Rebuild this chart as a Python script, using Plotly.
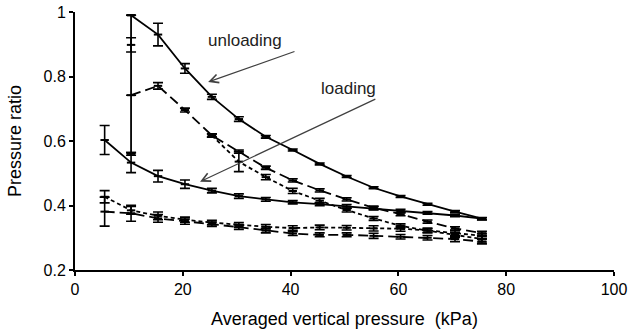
import plotly.graph_objects as go

# ---- data ----
x_load = [5.5, 10.4, 15.4, 20.4, 25.4, 30.4, 35.4, 40.4, 45.4, 50.4, 55.4, 60.4, 65.4, 70.5, 75.5]
solid_load = [0.603, 0.533, 0.491, 0.466, 0.446, 0.429, 0.419, 0.410, 0.404, 0.397, 0.391, 0.383, 0.377, 0.369, 0.359]
solid_load_err = [0.045, 0.031, 0.018, 0.013, 0.007, 0.007, 0.006, 0.005, 0.005, 0.006, 0.005, 0.005, 0.004, 0.004, 0.004]
dot_load = [0.427, 0.385, 0.368, 0.356, 0.347, 0.340, 0.334, 0.330, 0.332, 0.331, 0.329, 0.328, 0.323, 0.314, 0.306]
dot_load_err = [0.019, 0.012, 0.012, 0.008, 0.007, 0.007, 0.007, 0.007, 0.007, 0.007, 0.008, 0.008, 0.007, 0.008, 0.008]
dash_load = [0.381, 0.376, 0.360, 0.350, 0.342, 0.333, 0.322, 0.313, 0.309, 0.309, 0.306, 0.303, 0.300, 0.296, 0.288]
dash_load_err = [0.045, 0.025, 0.012, 0.008, 0.007, 0.007, 0.007, 0.006, 0.006, 0.006, 0.008, 0.007, 0.007, 0.008, 0.007]

x_unload = [10.4, 15.4, 20.4, 25.4, 30.4, 35.4, 40.4, 45.4, 50.4, 55.4, 60.4, 65.4, 70.5, 75.5]
solid_unload = [0.99, 0.93, 0.825, 0.737, 0.668, 0.613, 0.572, 0.529, 0.490, 0.455, 0.428, 0.404, 0.381, 0.359]
solid_unload_err = [0.0, 0.035, 0.015, 0.008, 0.007, 0.004, 0.003, 0.003, 0.003, 0.003, 0.003, 0.003, 0.003, 0.003]
dash_unload = [0.742, 0.771, 0.696, 0.617, 0.567, 0.517, 0.478, 0.447, 0.419, 0.393, 0.373, 0.350, 0.329, 0.314]
dash_unload_err = [0.0, 0.010, 0.006, 0.005, 0.005, 0.005, 0.005, 0.005, 0.005, 0.005, 0.005, 0.005, 0.005, 0.006]
dot_unload = [0.898, None, None, 0.617, 0.536, 0.488, 0.445, 0.415, 0.386, 0.360, 0.337, 0.322, 0.309, 0.296]
dot_unload_err = [0.022, 0.0, 0.0, 0.005, 0.031, 0.008, 0.008, 0.007, 0.006, 0.006, 0.006, 0.006, 0.008, 0.009]

x_drop = [10.4, 10.4]
y_drop = [0.99, 0.56]
y_drop_err = [0.0, 0.004]

x_ticks = [0, 20, 40, 60, 80, 100]
y_ticks = [0.2, 0.4, 0.6, 0.8, 1.0]
y_tick_text = ["0.2", "0.4", "0.6", "0.8", "1"]

FONT = "Liberation Sans, Arial, sans-serif"
LONG = "10px,5px"
SHORT = "4px,3px"

fig = go.Figure()


def add(x, y, err, dash):
    fig.add_trace(go.Scatter(
        x=x, y=y, mode="lines+markers",
        line=dict(color="black", width=1.8, dash=dash),
        marker=dict(symbol="line-ew", size=6, color="black",
                    line=dict(color="black", width=2)),
        error_y=dict(type="data", array=err, visible=True,
                     color="black", thickness=1.6, width=5),
        connectgaps=False, showlegend=False, hoverinfo="skip"))


add(x_load, solid_load, solid_load_err, "solid")
add(x_load, dot_load, dot_load_err, SHORT)
add(x_load, dash_load, dash_load_err, LONG)
add(x_unload, solid_unload, solid_unload_err, "solid")
add(x_unload, dash_unload, dash_unload_err, LONG)
add(x_unload, dot_unload, dot_unload_err, SHORT)
add(x_drop, y_drop, y_drop_err, "solid")

arrow = dict(xref="x", yref="y", axref="x", ayref="y", text="",
             showarrow=True, arrowhead=5, arrowsize=1.4, arrowwidth=1.2,
             arrowcolor="#404040")
fig.add_annotation(x=24.7, y=0.783, ax=41.0, ay=0.879, **arrow)
fig.add_annotation(x=23.2, y=0.474, ax=56.0, ay=0.732, **arrow)
fig.add_annotation(x=31.5, y=0.913, xref="x", yref="y", text="unloading",
                   showarrow=False, font=dict(family=FONT, size=17, color="#222"))
fig.add_annotation(x=50.8, y=0.764, xref="x", yref="y", text="loading",
                   showarrow=False, font=dict(family=FONT, size=17, color="#222"))

axis_common = dict(showline=True, linecolor="black", linewidth=2, ticks="outside",
                   ticklen=4, tickwidth=1.5, tickcolor="black", showgrid=False,
                   zeroline=False, automargin=False,
                   tickfont=dict(family=FONT, size=16, color="black"))

fig.update_layout(
    width=629, height=335,
    margin=dict(l=75, r=15, t=12, b=65),
    paper_bgcolor="white", plot_bgcolor="white",
    font=dict(family=FONT, color="black"),
    xaxis=dict(range=[0, 100], tickvals=x_ticks,
               title=dict(text="Averaged vertical pressure  (kPa)",
                          font=dict(family=FONT, size=18), standoff=15),
               **axis_common),
    yaxis=dict(range=[0.2, 1.0], tickvals=y_ticks, ticktext=y_tick_text,
               title=dict(text="Pressure ratio", font=dict(family=FONT, size=18),
                          standoff=17),
               **axis_common),
)

fig.write_html("out.html")
